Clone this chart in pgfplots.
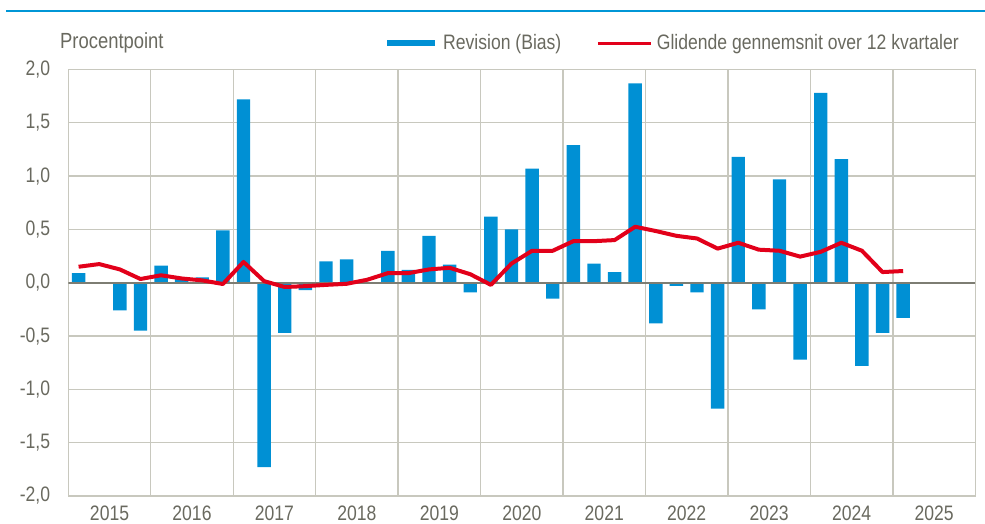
\documentclass[border=0pt]{standalone}
\usepackage{fontspec}
\setmainfont{Liberation Sans}[FakeStretch=0.84]
\usepackage{pgfplots}
\pgfplotsset{compat=1.18}
\definecolor{barblue}{RGB}{0,144,212}
\definecolor{linered}{RGB}{226,0,26}
\definecolor{gridc}{RGB}{200,200,190}
\definecolor{zeroc}{RGB}{125,125,115}
\definecolor{txt}{RGB}{105,105,95}
\definecolor{rule}{RGB}{0,150,214}
\begin{document}
\begin{tikzpicture}[x=1bp,y=1bp]
\useasboundingbox (0,0) rectangle (985,524);
\draw[rule, line width=2.6bp] (6,513) -- (985,513);
\node[anchor=west, inner sep=0pt, text=txt, font=\fontsize{22}{25}\selectfont] at (60,481) {Procentpoint};
\begin{axis}[
  at={(68.3bp,28bp)}, anchor=south west,
  scale only axis, width=907bp, height=426.5bp,
  xmin=-0.5, xmax=43.5, ymin=-2, ymax=2,
  xtick={1.5,5.5,...,41.5},
  xticklabels={2015,2016,2017,2018,2019,2020,2021,2022,2023,2024,2025},
  minor xtick={3.5,7.5,...,39.5},
  ytick={-2,-1.5,...,2},
  yticklabels={{-2,0},{-1,5},{-1,0},{-0,5},{0,0},{0,5},{1,0},{1,5},{2,0}},
  major tick length=0pt, minor tick length=0pt,
  xmajorgrids=false, xminorgrids=true, ymajorgrids=true,
  grid style={gridc, line width=1.3bp},
  minor grid style={gridc, line width=1.3bp},
  axis line style={gridc, line width=1.3bp},
  tick label style={text=txt, font=\fontsize{21}{24}\selectfont, inner sep=0pt},
  yticklabel style={anchor=east, xshift=-18bp},
  xticklabel style={anchor=north, yshift=-10bp},
  legend style={at={(0.3514,1.0621)}, anchor=west, draw=none, fill=none,
    inner sep=0pt, text=txt, font=\fontsize{21}{24}\selectfont,
    /tikz/every even column/.append style={column sep=33bp}},
  legend columns=2,
  legend cell align=left,
]
\addplot[ybar, bar width=0.65, fill=barblue, draw=none,
  legend image code/.code={\fill[barblue] (0bp,-2.6bp) rectangle (48bp,2.6bp); \path (54bp,0bp);}]
  coordinates {
  (0,0.09) (1,0.00) (2,-0.26) (3,-0.45)
  (4,0.16) (5,0.04) (6,0.05) (7,0.49)
  (8,1.72) (9,-1.73) (10,-0.47) (11,-0.07)
  (12,0.20) (13,0.22) (14,0.00) (15,0.30)
  (16,0.12) (17,0.44) (18,0.17) (19,-0.09)
  (20,0.62) (21,0.50) (22,1.07) (23,-0.15)
  (24,1.29) (25,0.18) (26,0.10) (27,1.87)
  (28,-0.38) (29,-0.03) (30,-0.09) (31,-1.18)
  (32,1.18) (33,-0.25) (34,0.97) (35,-0.72)
  (36,1.78) (37,1.16) (38,-0.78) (39,-0.47)
  (40,-0.33)
  };
\addlegendentry{Revision (Bias)}
\draw[zeroc, line width=1.6bp] (axis cs:-0.5,0) -- (axis cs:43.5,0);
\addplot[linered, line width=4bp, line join=round, no marks,
  legend image code/.code={\draw[linered, line width=3bp] (0bp,0bp) -- (53bp,0bp); \path (55bp,0bp);}]
  coordinates {
  (0,0.15) (1,0.175) (2,0.125) (3,0.035)
  (4,0.07) (5,0.04) (6,0.022) (7,-0.012)
  (8,0.195) (9,0.015) (10,-0.04) (11,-0.032)
  (12,-0.02) (13,-0.01) (14,0.028) (15,0.09)
  (16,0.09) (17,0.125) (18,0.14) (19,0.08)
  (20,-0.02) (21,0.18) (22,0.30) (23,0.30)
  (24,0.39) (25,0.39) (26,0.40) (27,0.525)
  (28,0.485) (29,0.44) (30,0.415) (31,0.32)
  (32,0.375) (33,0.31) (34,0.30) (35,0.245)
  (36,0.29) (37,0.375) (38,0.30) (39,0.10)
  (40,0.11)
  };
\addlegendentry{Glidende gennemsnit over 12 kvartaler}
\end{axis}
\end{tikzpicture}
\end{document}
